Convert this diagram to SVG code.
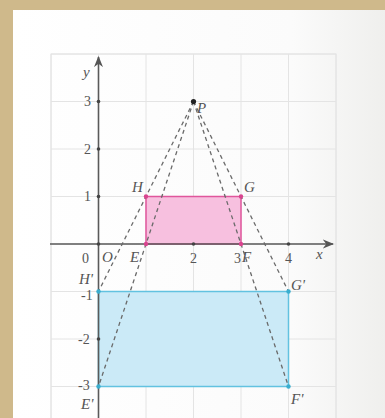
<svg xmlns="http://www.w3.org/2000/svg" width="385" height="418" viewBox="0 0 385 418">
<defs>
<linearGradient id="panel" x1="0" y1="0" x2="1" y2="0">
<stop offset="0" stop-color="#ffffff"/>
<stop offset="0.75" stop-color="#fbfbfb"/>
<stop offset="1" stop-color="#efefed"/>
</linearGradient>
<marker id="arr" viewBox="0 0 10 10" refX="9" refY="5" markerWidth="7" markerHeight="7" orient="auto">
<path d="M0,1 L10,5 L0,9 L3,5 Z" fill="#555"/>
</marker>
</defs>
<style>
.grid{stroke:#e4e4e4;stroke-width:1;fill:none}
.axis{stroke:#5a5a5a;stroke-width:1.6;fill:none}
.dash{stroke:#6a6a6a;stroke-width:1.3;stroke-dasharray:4 3.5;fill:none}
.lbl{font-family:"Liberation Serif",serif;font-style:italic;font-size:15px;fill:#555}
.num{font-family:"Liberation Serif",serif;font-size:14px;fill:#555}
.tick{fill:#444}
</style>
<rect x="0" y="0" width="385" height="418" fill="#cfb98b"/>
<rect x="13" y="10" width="372" height="408" fill="url(#panel)"/>
<g id="grid">
<rect x="51" y="54" width="285" height="370" fill="#ffffff" class="grid"/>
<path class="grid" d="M51,54V418M98.5,54V418M146,54V418M193.5,54V418M241,54V418M288.5,54V418M336,54V418M51,54H336M51,101.5H336M51,149H336M51,196.5H336M51,244H336M51,291.5H336M51,339H336M51,386.5H336"/>
</g>
<g id="rect-EFGH">
<rect x="146" y="196.5" width="95" height="47.5" fill="#f7c0df" stroke="#e0569c" stroke-width="1.5"/>
</g>
<g id="rect-EFGH-image">
<rect x="98.5" y="291.5" width="190" height="95" fill="#cbeaf7" stroke="#62c2e0" stroke-width="1.5"/>
</g>
<g id="axes">
<line class="axis" x1="50" y1="244" x2="333" y2="244" marker-end="url(#arr)"/>
<line class="axis" x1="98.5" y1="418" x2="98.5" y2="57" marker-end="url(#arr)"/>
<g class="tick">
<circle cx="98.5" cy="101.5" r="1.8"/><circle cx="98.5" cy="149" r="1.8"/><circle cx="98.5" cy="196.5" r="1.8"/><circle cx="98.5" cy="339" r="1.8"/>
<circle cx="193.5" cy="244" r="1.8"/><circle cx="288.5" cy="244" r="1.8"/><circle cx="98.5" cy="244" r="1.8"/>
</g>
</g>
<g id="connectors">
<line class="dash" x1="193.5" y1="101.5" x2="98.5" y2="291.5"/>
<line class="dash" x1="193.5" y1="101.5" x2="98.5" y2="386.5"/>
<line class="dash" x1="193.5" y1="101.5" x2="288.5" y2="291.5"/>
<line class="dash" x1="193.5" y1="101.5" x2="288.5" y2="386.5"/>
</g>
<g id="points">
<circle cx="193.5" cy="101.5" r="2.6" fill="#222"/>
<g fill="#d9448f"><circle cx="146" cy="196.5" r="2.2"/><circle cx="241" cy="196.5" r="2.2"/><circle cx="146" cy="244" r="2.2"/><circle cx="241" cy="244" r="2.2"/></g>
<g fill="#3aaecf"><circle cx="98.5" cy="291.5" r="2.2"/><circle cx="288.5" cy="291.5" r="2.2"/><circle cx="98.5" cy="386.5" r="2.2"/><circle cx="288.5" cy="386.5" r="2.2"/></g>
</g>
<g id="labels">
<text class="lbl" x="83" y="77">y</text>
<text class="lbl" x="316" y="259">x</text>
<text class="num" x="84" y="106">3</text>
<text class="num" x="84" y="154">2</text>
<text class="num" x="84" y="201">1</text>
<text class="num" x="82" y="263">0</text>
<text class="num" x="190" y="263">2</text>
<text class="num" x="285" y="263">4</text>
<text class="num" x="234" y="263">3</text>
<text class="num" x="81" y="300">-1</text>
<text class="num" x="78" y="344">-2</text>
<text class="num" x="78" y="390">-3</text>
<text class="lbl" x="197" y="113">P</text>
<text class="lbl" x="132" y="192">H</text>
<text class="lbl" x="244" y="192">G</text>
<text class="lbl" x="102" y="262">O</text>
<text class="lbl" x="130" y="262">E</text>
<text class="lbl" x="242" y="262">F</text>
<text class="lbl" x="291" y="290">G'</text>
<text class="lbl" x="79" y="284">H'</text>
<text class="lbl" x="81" y="409">E'</text>
<text class="lbl" x="291" y="404">F'</text>
</g>
</svg>
